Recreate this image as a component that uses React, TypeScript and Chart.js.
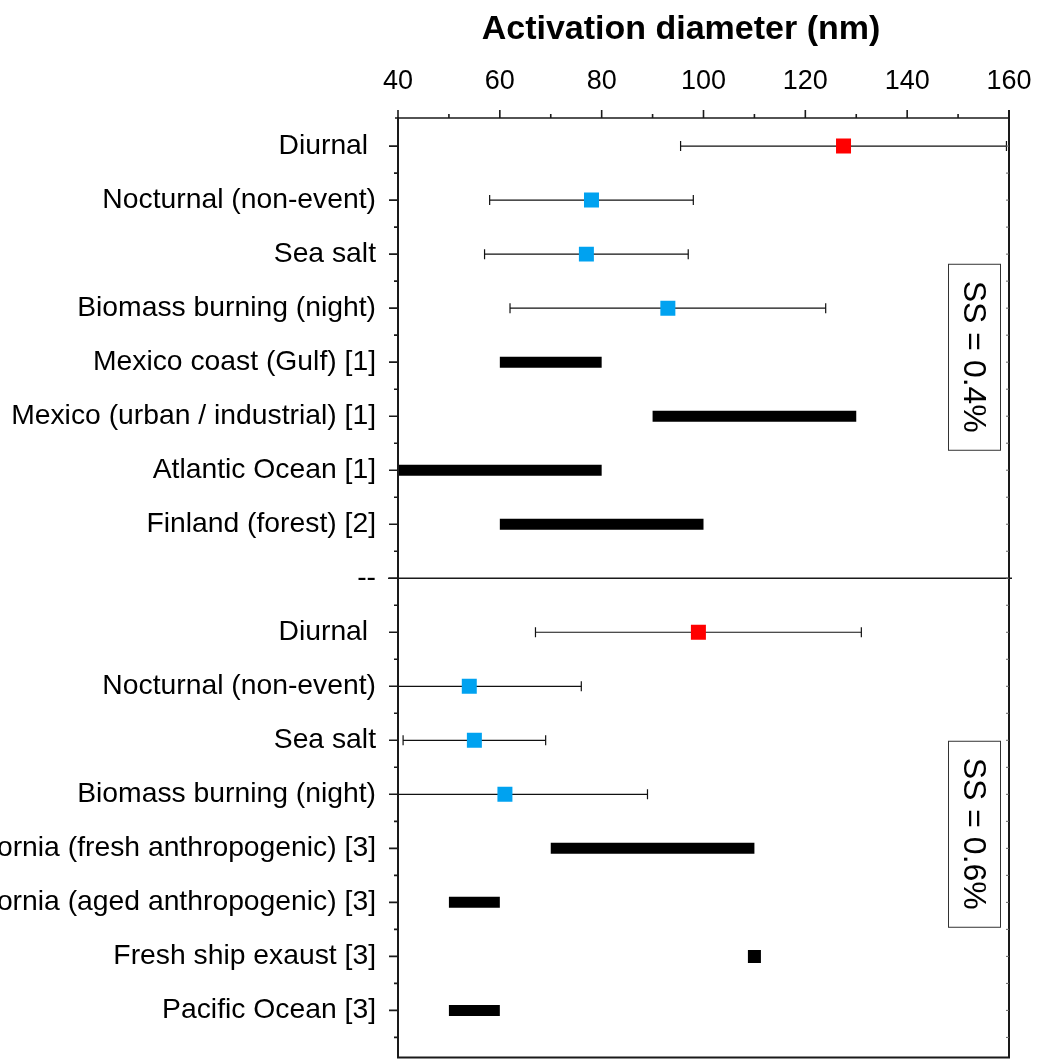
import React, { useEffect, useRef } from 'react';
import { Chart, registerables } from 'chart.js';

Chart.register(...registerables);

const categories = [
  'Diurnal ',
  'Nocturnal (non-event)',
  'Sea salt',
  'Biomass burning (night)',
  'Mexico coast (Gulf) [1]',
  'Mexico (urban / industrial) [1]',
  'Atlantic Ocean [1]',
  'Finland (forest) [2]',
  '--',
  'Diurnal ',
  'Nocturnal (non-event)',
  'Sea salt',
  'Biomass burning (night)',
  'California (fresh anthropogenic) [3]',
  'California (aged anthropogenic) [3]',
  'Fresh ship exaust [3]',
  'Pacific Ocean [3]',
];

const xTicks = [40, 60, 80, 100, 120, 140, 160];

// Diurnal (red) measurements: row, mean, error range
const diurnalRows = [0, 9];
const diurnalMean = [127.5, 99];
const diurnalLow = [95.5, 67];
const diurnalHigh = [159.5, 131];

// Nocturnal / sea salt / biomass (blue) measurements
const blueRows = [1, 2, 3, 10, 11, 12];
const blueMean = [78, 77, 93, 54, 55, 61];
const blueLow = [58, 57, 62, 38, 41, 37];
const blueHigh = [98, 97, 124, 76, 69, 89];

// Literature ranges (black bars)
const rangeRows = [4, 5, 6, 7, 13, 14, 16];
const rangeLow = [60, 90, 40, 60, 70, 50, 50];
const rangeHigh = [80, 130, 80, 100, 110, 60, 60];

// Single literature value
const shipRows = [15];
const shipValue = [110];

const separatorRow = 8;
const ssLabels = ['SS = 0.4%', 'SS = 0.6%'];
const ssRows = [3.9, 12.73];

const FONT = "'Liberation Sans', Arial, sans-serif";

function zeroPad(scale: any) {
  scale.paddingLeft = 0;
  scale.paddingRight = 0;
  scale.paddingTop = 0;
  scale.paddingBottom = 0;
}

export default function App() {
  const ref = useRef<HTMLCanvasElement | null>(null);

  useEffect(() => {
    if (!ref.current) return;

    const datasets: any[] = [];

    datasets.push({
      label: 'diurnal',
      data: diurnalRows.map((r, i) => ({ x: diurnalMean[i], y: r })),
      pointStyle: 'rect',
      pointRadius: 10.6,
      pointBackgroundColor: '#FF0000',
      pointBorderWidth: 0,
      showLine: false,
      order: 0,
    });
    datasets.push({
      label: 'blue',
      data: blueRows.map((r, i) => ({ x: blueMean[i], y: r })),
      pointStyle: 'rect',
      pointRadius: 10.6,
      pointBackgroundColor: '#00A2F0',
      pointBorderWidth: 0,
      showLine: false,
      order: 0,
    });
    datasets.push({
      label: 'ship',
      data: shipRows.map((r, i) => ({ x: shipValue[i], y: r })),
      pointStyle: 'rect',
      pointRadius: 9.2,
      pointBackgroundColor: '#000000',
      pointBorderWidth: 0,
      showLine: false,
      order: 0,
    });

    const errRows = [...diurnalRows, ...blueRows];
    const errLow = [...diurnalLow, ...blueLow];
    const errHigh = [...diurnalHigh, ...blueHigh];
    errRows.forEach((r, i) => {
      datasets.push({
        label: 'err' + i,
        data: [
          { x: errLow[i], y: r },
          { x: errHigh[i], y: r },
        ],
        showLine: true,
        borderColor: '#111',
        borderWidth: 1.2,
        pointStyle: 'line',
        rotation: 90,
        pointRadius: 5,
        pointBorderWidth: 1.2,
        pointBorderColor: '#111',
        order: 1,
      });
    });

    rangeRows.forEach((r, i) => {
      datasets.push({
        label: 'range' + i,
        data: [
          { x: rangeLow[i], y: r },
          { x: rangeHigh[i], y: r },
        ],
        showLine: true,
        borderColor: '#000',
        borderWidth: 11,
        borderCapStyle: 'butt',
        pointRadius: 0,
        order: 1,
      });
    });

    const decor = {
      id: 'decor',
      afterDatasetsDraw(chart: any) {
        const { ctx, chartArea } = chart;
        const xs = chart.scales.x;
        const ys = chart.scales.y;
        const { left, right, top, bottom } = chartArea;
        ctx.save();
        ctx.strokeStyle = '#1a1a1a';

        // separator
        const sy = ys.getPixelForValue(separatorRow);
        ctx.lineWidth = 1.5;
        ctx.beginPath();
        ctx.moveTo(left - 10, sy);
        ctx.lineTo(right + 3, sy);
        ctx.stroke();

        // axes lines
        ctx.lineWidth = 2;
        ctx.beginPath();
        ctx.moveTo(left, top - 1);
        ctx.lineTo(left, bottom);
        ctx.moveTo(right, top - 8);
        ctx.lineTo(right, bottom);
        ctx.moveTo(left - 1, bottom);
        ctx.lineTo(right + 1, bottom);
        ctx.stroke();
        ctx.lineWidth = 1.6;
        ctx.beginPath();
        ctx.moveTo(left - 3, top);
        ctx.lineTo(right + 1, top);
        ctx.stroke();

        // top ticks
        ctx.lineWidth = 1.6;
        ctx.beginPath();
        for (let v = xTicks[0]; v <= xTicks[xTicks.length - 1]; v += 10) {
          const px = xs.getPixelForValue(v);
          const major = xTicks.includes(v);
          ctx.moveTo(px, top);
          ctx.lineTo(px, top - (major ? 8 : 4));
        }
        ctx.stroke();

        // left ticks and right inner ticks
        ctx.lineWidth = 1.6;
        ctx.beginPath();
        for (let k = 0; k <= (categories.length - 1) * 2 + 1; k++) {
          const v = k / 2;
          const py = ys.getPixelForValue(v);
          if (py < top + 2 || py > bottom - 2) continue;
          const major = k % 2 === 0;
          ctx.moveTo(left, py);
          ctx.lineTo(left - (major ? 9 : 4), py);
        }
        ctx.stroke();
        ctx.lineWidth = 1;
        ctx.strokeStyle = '#666';
        ctx.beginPath();
        for (let k = 0; k <= (categories.length - 1) * 2 + 1; k++) {
          const py = ys.getPixelForValue(k / 2);
          if (py < top + 2 || py > bottom - 2) continue;
          ctx.moveTo(right, py);
          ctx.lineTo(right - 3, py);
        }
        ctx.stroke();

        // SS boxes
        ssLabels.forEach((t, i) => {
          const cy = ys.getPixelForValue(ssRows[i]);
          const bx = right - 61;
          const bw = 52;
          const bh = 186;
          ctx.lineWidth = 1;
          ctx.strokeStyle = '#333';
          ctx.fillStyle = '#fff';
          ctx.fillRect(bx, cy - bh / 2, bw, bh);
          ctx.strokeRect(bx + 0.5, cy - bh / 2 + 0.5, bw, bh);
          ctx.save();
          ctx.translate(bx + bw / 2, cy);
          ctx.rotate(Math.PI / 2);
          ctx.fillStyle = '#000';
          ctx.font = `32px ${FONT}`;
          ctx.textAlign = 'center';
          ctx.textBaseline = 'middle';
          ctx.fillText(t, 0, 1);
          ctx.restore();
        });

        // title
        ctx.fillStyle = '#000';
        ctx.font = `bold 34px ${FONT}`;
        ctx.textAlign = 'center';
        ctx.textBaseline = 'middle';
        ctx.fillText('Activation diameter (nm)', 681, 30);
        ctx.restore();
      },
    };

    const chart = new Chart(ref.current, {
      type: 'scatter',
      data: { datasets },
      options: {
        animation: false,
        responsive: false,
        maintainAspectRatio: false,
        layout: { padding: { top: 0, left: 0, right: 28, bottom: 0 } },
        plugins: {
          legend: { display: false },
          tooltip: { enabled: false },
        },
        scales: {
          x: {
            type: 'linear',
            position: 'top',
            min: 40,
            max: 160,
            grid: { display: false, drawTicks: false },
            border: { display: false },
            afterBuildTicks: (scale: any) => {
              scale.ticks = xTicks.map((v) => ({ value: v }));
            },
            afterFit: (scale: any) => {
              scale.height = 118;
              zeroPad(scale);
            },
            ticks: {
              color: '#000',
              font: { family: FONT, size: 27 },
              padding: 20,
              maxRotation: 0,
              autoSkip: false,
            },
          },
          y: {
            type: 'linear',
            reverse: true,
            min: -0.52,
            max: 16.87,
            grid: { display: false, drawTicks: false },
            border: { display: false },
            afterBuildTicks: (scale: any) => {
              scale.ticks = categories.map((_, i) => ({ value: i }));
            },
            afterFit: (scale: any) => {
              scale.width = 398;
              zeroPad(scale);
            },
            ticks: {
              color: '#000',
              font: { family: FONT, size: 28.3 },
              padding: 22,
              autoSkip: false,
              callback: (v: any) => categories[v as number] ?? '',
            },
          },
        },
      },
      plugins: [decor],
    });

    return () => chart.destroy();
  }, []);

  return (
    <div
      style={{
        position: 'absolute',
        left: 0,
        top: 0,
        width: 1037,
        height: 1061,
        overflow: 'hidden',
        background: '#fff',
      }}
    >
      <canvas ref={ref} width={1037} height={1068} style={{ display: 'block' }} />
    </div>
  );
}
